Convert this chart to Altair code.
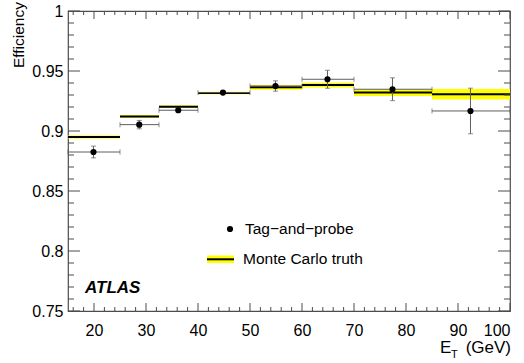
import altair as alt
import pandas as pd

# ---------------- data ----------------
bin_lo = [15, 25, 32.5, 40, 50, 60, 70, 85]
bin_hi = [25, 32.5, 40, 50, 60, 70, 85, 100]

tp_x = [19.9, 28.7, 36.2, 44.8, 54.9, 64.9, 77.4, 92.4]
tp_eff = [0.8825, 0.9053, 0.9173, 0.9320, 0.9375, 0.9431, 0.9348, 0.9167]
tp_err = [0.0049, 0.0035, 0.0015, 0.0010, 0.0043, 0.0075, 0.0095, 0.0190]

mc_eff = [0.8950, 0.9120, 0.9203, 0.9317, 0.9364, 0.9383, 0.9320, 0.9306]
mc_err = [0.0012, 0.0012, 0.0010, 0.0010, 0.0020, 0.0020, 0.0028, 0.0044]

x_major = [20, 30, 40, 50, 60, 70, 80, 90, 100]
x_minor = [16, 18, 22, 24, 26, 28, 32, 34, 36, 38, 42, 44, 46, 48, 52, 54, 56, 58,
           62, 64, 66, 68, 72, 74, 76, 78, 82, 84, 86, 88, 92, 94, 96, 98]
y_major = [0.75, 0.8, 0.85, 0.9, 0.95, 1.0]
y_minor = [0.76, 0.77, 0.78, 0.79, 0.81, 0.82, 0.83, 0.84, 0.86, 0.87, 0.88, 0.89,
           0.91, 0.92, 0.93, 0.94, 0.96, 0.97, 0.98, 0.99]

legend_labels = ["Tag\u2212and\u2212probe", "Monte Carlo truth"]
experiment_label = "ATLAS"
y_title = "Efficiency"

# ---------------- tables ----------------
mc = pd.DataFrame({
    "lo": bin_lo, "hi": bin_hi, "eff": mc_eff,
    "elo": [e - d for e, d in zip(mc_eff, mc_err)],
    "ehi": [e + d for e, d in zip(mc_eff, mc_err)],
})
tp = pd.DataFrame({
    "x": tp_x, "eff": tp_eff, "xlo": bin_lo, "xhi": bin_hi,
    "elo": [e - d for e, d in zip(tp_eff, tp_err)],
    "ehi": [e + d for e, d in zip(tp_eff, tp_err)],
})
one = pd.DataFrame({"a": [0]})

W, H = 442, 300
FONT = "Liberation Sans"
FRAME = "#4d4d4d"
ERR = "#5e5e5e"

xs = alt.Scale(domain=[15, 100], nice=False, zero=False)
ys = alt.Scale(domain=[0.75, 1.0], nice=False, zero=False)
xax = alt.Axis(values=x_major, format="d", domain=False, ticks=False, grid=False,
               labelFont=FONT, labelFontSize=16, labelPadding=11, labelColor="black",
               title=None)
yax = alt.Axis(values=y_major, format="~g", domain=False, ticks=False, grid=False,
               labelFont=FONT, labelFontSize=16, labelPadding=5, labelColor="black",
               title=None)


def X(f):
    return alt.X(f, type="quantitative", scale=xs, axis=xax)


def Y(f):
    return alt.Y(f, type="quantitative", scale=ys, axis=yax)


band = alt.Chart(mc).mark_rect(color="#ffff00").encode(
    x=X("lo"), x2="hi", y=Y("elo"), y2="ehi")
mcline = alt.Chart(mc).mark_rule(color="black", strokeWidth=2).encode(
    x=X("lo"), x2="hi", y=Y("eff"))

xerr = alt.Chart(tp).mark_rule(color=ERR, strokeWidth=1).encode(
    x=X("xlo"), x2="xhi", y=Y("eff"))
yerr = alt.Chart(tp).mark_rule(color=ERR, strokeWidth=1).encode(
    x=X("x"), y=Y("elo"), y2="ehi")
cap_xlo = alt.Chart(tp).mark_tick(color=ERR, orient="vertical", size=5, thickness=1).encode(
    x=X("xlo"), y=Y("eff"))
cap_xhi = alt.Chart(tp).mark_tick(color=ERR, orient="vertical", size=5, thickness=1).encode(
    x=X("xhi"), y=Y("eff"))
cap_ylo = alt.Chart(tp).mark_tick(color=ERR, orient="horizontal", size=5, thickness=1).encode(
    x=X("x"), y=Y("elo"))
cap_yhi = alt.Chart(tp).mark_tick(color=ERR, orient="horizontal", size=5, thickness=1).encode(
    x=X("x"), y=Y("ehi"))
points = alt.Chart(tp).mark_circle(color="black", size=38, opacity=1).encode(
    x=X("x"), y=Y("eff"))

# ---------------- inward ticks (ROOT style) ----------------
dxM = pd.DataFrame({"v": x_major})
dxm = pd.DataFrame({"v": x_minor})
dyM = pd.DataFrame({"v": y_major})
dym = pd.DataFrame({"v": y_minor})


def xt(df, y0, y1):
    return alt.Chart(df).mark_rule(color=FRAME, strokeWidth=1).encode(
        x=X("v"), y=alt.value(y0), y2=alt.value(y1))


def yt(df, x0, x1):
    return alt.Chart(df).mark_rule(color=FRAME, strokeWidth=1).encode(
        y=Y("v"), x=alt.value(x0), x2=alt.value(x1))


ticks = [
    xt(dxM, H, H - 8), xt(dxm, H, H - 4), xt(dxM, 0, 8), xt(dxm, 0, 4),
    yt(dyM, 0, 12), yt(dym, 0, 6), yt(dyM, W, W - 12), yt(dym, W, W - 6),
]

# ---------------- texts / legend ----------------
ytitle = alt.Chart(one).mark_text(text=y_title, font=FONT, fontSize=15.5, angle=270,
                                  align="right", baseline="alphabetic").encode(
    x=alt.value(-44), y=alt.value(-9))
xt_E = alt.Chart(one).mark_text(text="E", font=FONT, fontSize=17, align="left",
                                baseline="alphabetic").encode(x=alt.value(372), y=alt.value(342))
xt_T = alt.Chart(one).mark_text(text="T", font=FONT, fontSize=11, align="left",
                                baseline="alphabetic").encode(x=alt.value(383), y=alt.value(347))
xt_G = alt.Chart(one).mark_text(text="(GeV)", font=FONT, fontSize=17, align="right",
                                baseline="alphabetic").encode(x=alt.value(443), y=alt.value(342))
atlas = alt.Chart(one).mark_text(text=experiment_label, font=FONT, fontSize=17,
                                 fontWeight="bold", fontStyle="italic", align="left",
                                 baseline="middle").encode(x=alt.value(17), y=alt.value(277))

leg_dot = alt.Chart(one).mark_circle(color="black", size=38, opacity=1).encode(
    x=alt.value(162), y=alt.value(218))
leg_t1 = alt.Chart(one).mark_text(text=legend_labels[0], font=FONT, fontSize=15.5,
                                  align="left", baseline="middle").encode(
    x=alt.value(177), y=alt.value(218))
leg_band = alt.Chart(one).mark_rect(color="#ffff00").encode(
    x=alt.value(139), x2=alt.value(166), y=alt.value(244.5), y2=alt.value(252))
leg_line = alt.Chart(one).mark_rule(color="black", strokeWidth=2).encode(
    x=alt.value(139), x2=alt.value(166), y=alt.value(248.3))
leg_t2 = alt.Chart(one).mark_text(text=legend_labels[1], font=FONT, fontSize=15.5,
                                  align="left", baseline="middle").encode(
    x=alt.value(175), y=alt.value(248))

chart = alt.layer(
    band, mcline, xerr, yerr, cap_xlo, cap_xhi, cap_ylo, cap_yhi, points,
    *ticks, ytitle, xt_E, xt_T, xt_G, atlas, leg_dot, leg_t1, leg_band, leg_line, leg_t2,
).properties(
    width=W, height=H,
    autosize=alt.AutoSizeParams(type="none"),
    padding={"left": 68, "top": 11, "right": 14, "bottom": 52},
    background="white",
).configure_view(stroke=FRAME, strokeWidth=1.2)

chart.save("out.html", embed_options={"renderer": "svg", "actions": False})
